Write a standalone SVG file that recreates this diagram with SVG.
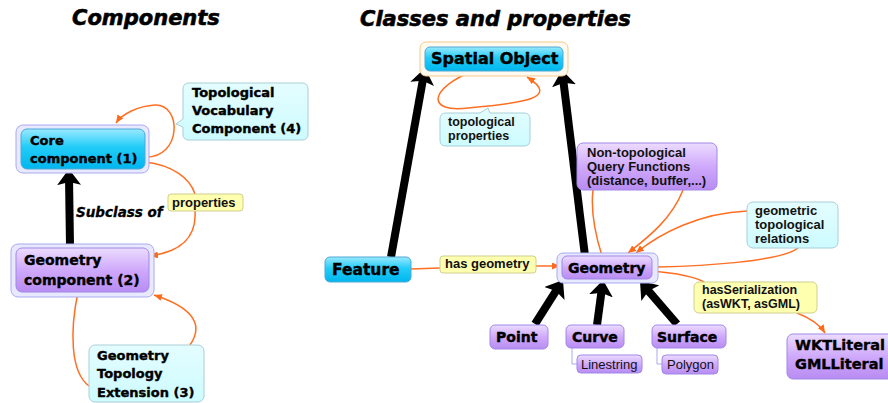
<svg xmlns="http://www.w3.org/2000/svg" width="888" height="403" viewBox="0 0 888 403">
<defs>
<linearGradient id="gCyan" x1="0" y1="0" x2="0" y2="1">
<stop offset="0" stop-color="#9ae9ff"/><stop offset="0.45" stop-color="#22ccf8"/><stop offset="1" stop-color="#00b6ee"/>
</linearGradient>
<linearGradient id="gPurple" x1="0" y1="0" x2="0" y2="1">
<stop offset="0" stop-color="#ecdcff"/><stop offset="0.5" stop-color="#cfa9fb"/><stop offset="1" stop-color="#b88cf2"/>
</linearGradient>
<linearGradient id="gLight" x1="0" y1="0" x2="0" y2="1">
<stop offset="0" stop-color="#e4fdff"/><stop offset="1" stop-color="#cdfbff"/>
</linearGradient>
<marker id="ao" viewBox="0 0 8 7" refX="8" refY="3.5" markerWidth="8" markerHeight="7" markerUnits="userSpaceOnUse" orient="auto">
<path d="M0,0 L8,3.5 L0,7 Z" fill="#ff6a1a"/>
</marker>
<marker id="ab" viewBox="0 0 16 24" refX="8" refY="12" markerWidth="16" markerHeight="24" markerUnits="userSpaceOnUse" orient="auto">
<path d="M0,0 L16,12 L0,24 L3,12 Z" fill="#000"/>
</marker>
</defs>
<style>
.title{font-family:"DejaVu Sans",sans-serif;font-weight:bold;font-style:italic;font-size:21px;fill:#000;stroke:#000;stroke-width:0.6}
.heavy{font-family:"DejaVu Sans",sans-serif;font-weight:bold;fill:#000;stroke:#000;stroke-width:0.4}
.lbl{font-family:"Liberation Sans",Arial,sans-serif;font-weight:bold;font-size:13px;fill:#111}
.reg{font-family:"Liberation Sans",Arial,sans-serif;font-size:13px;fill:#111}
.cyan{fill:url(#gCyan);stroke:#4fa8d6;stroke-width:1}
.purple{fill:url(#gPurple);stroke:#a088e8;stroke-width:1}
.light{fill:url(#gLight);stroke:#a8cfd6;stroke-width:1}
.yellow{fill:#ffffb0;stroke:#cfcf90;stroke-width:1}
.halo{fill:#e8e8ff;stroke:#a9a9f2;stroke-width:1}
.haloO{fill:#fffaf0;stroke:#f6c98c;stroke-width:1}
.oc{fill:none;stroke:#ff6f22;stroke-width:1.5}
.bk{fill:none;stroke:#000;stroke-width:8}
.sub{fill:none;stroke:#a9a9f2;stroke-width:1}
</style>

<text class="title" x="72" y="25">Components</text>
<text class="title" x="360" y="26">Classes and properties</text>

<g id="connectors">
<path class="oc" d="M145,157 C182,158 182,104 155,105 C138,106 122,114 116,123" marker-end="url(#ao)"/>
<path class="oc" d="M145,162 C172,165 190,178 195,194"/>
<path class="oc" d="M195,211 C197,240 178,252 150,256" marker-end="url(#ao)"/>
<path class="oc" d="M78,292 C70,330 70,372 89,386"/>
<path class="oc" d="M190,345 C206,322 188,306 154,295" marker-end="url(#ao)"/>
<path class="oc" d="M473,71 C430,88 425,113 468,108 C525,103 560,98 527,77" marker-end="url(#ao)"/>
<path class="oc" d="M411,269 L440,268"/>
<path class="oc" d="M536,266 L560,266" marker-end="url(#ao)"/>
<path class="oc" d="M593,190 C590,215 597,240 602,256"/>
<path class="oc" d="M683,190 C672,218 650,236 628,253" marker-end="url(#ao)"/>
<path class="oc" d="M747,211 C700,213 660,233 636,253" marker-end="url(#ao)"/>
<path class="oc" d="M798,248 C780,262 700,266 658,267"/>
<path class="oc" d="M652,271 C675,273 695,277 704,282"/>
<path class="oc" d="M797,313 C810,318 820,325 825,333" marker-end="url(#ao)"/>
<path class="sub" d="M572,348 V364 H577"/>
<path class="sub" d="M657,348 V364 H662"/>
<line class="bk" x1="70" y1="246" x2="69" y2="177" marker-end="url(#ab)"/>
<line class="bk" x1="391" y1="257" x2="423.6" y2="75.9" marker-end="url(#ab)"/>
<line class="bk" x1="585" y1="256" x2="563" y2="77.9" marker-end="url(#ab)"/>
<line class="bk" x1="535" y1="324" x2="558.7" y2="286.7" marker-end="url(#ab)"/>
<line class="bk" x1="597" y1="325" x2="602" y2="287.9" marker-end="url(#ab)"/>
<line class="bk" x1="677" y1="324" x2="645.2" y2="287.1" marker-end="url(#ab)"/>
</g>

<g id="subclass-label">
<text class="title" style="font-size:13.5px;stroke-width:0.3" x="76" y="217">Subclass of</text>
</g>

<g id="core">
<rect class="halo" x="16" y="125" width="133" height="48" rx="7"/>
<rect class="cyan" x="21" y="129" width="124" height="40" rx="6"/>
<text class="heavy" font-size="13" x="30" y="145">Core</text>
<text class="heavy" font-size="13" x="30" y="163">component (1)</text>
</g>

<g id="topvocab">
<path class="light" d="M189,83 H302 Q308,83 308,89 V134 Q308,140 302,140 H189 Q183,140 183,134 V127 L176,124 L183,119 V89 Q183,83 189,83 Z"/>
<text class="heavy" font-size="13" x="192" y="97">Topological</text>
<text class="heavy" font-size="13" x="192" y="115">Vocabulary</text>
<text class="heavy" font-size="13" x="192" y="133">Component (4)</text>
</g>

<g id="properties">
<rect class="yellow" x="168" y="194" width="75" height="17" rx="3"/>
<text class="lbl" x="172" y="207">properties</text>
</g>

<g id="geomcomp">
<rect class="halo" x="11" y="244" width="143" height="53" rx="7"/>
<rect class="purple" x="16" y="248" width="133" height="44" rx="6"/>
<text class="heavy" font-size="14" x="24" y="265">Geometry</text>
<text class="heavy" font-size="14" x="24" y="285">component (2)</text>
</g>

<g id="extension">
<rect class="light" x="89" y="345" width="115" height="57" rx="6"/>
<text class="heavy" font-size="13" x="97" y="360">Geometry</text>
<text class="heavy" font-size="13" x="97" y="378">Topology</text>
<text class="heavy" font-size="13" x="97" y="397">Extension (3)</text>
</g>

<g id="spatial">
<rect class="haloO" x="420" y="42" width="148" height="34" rx="6"/>
<rect class="cyan" x="425" y="47" width="138" height="24" rx="5"/>
<text class="heavy" font-size="16" x="431" y="64">Spatial Object</text>
</g>

<g id="topprops">
<path class="light" d="M446,113 H480 L488,108 L490,113 H524 Q530,113 530,119 V140 Q530,146 524,146 H446 Q440,146 440,140 V119 Q440,113 446,113 Z"/>
<text class="lbl" font-size="12.5" style="font-size:12.5px" x="448" y="125.5">topological</text>
<text class="lbl" style="font-size:12.5px" x="448" y="139.5">properties</text>
</g>

<g id="feature">
<rect class="cyan" x="325" y="257" width="86" height="25" rx="5"/>
<text class="heavy" font-size="15.5" x="332" y="275">Feature</text>
</g>

<g id="hasgeom">
<rect class="yellow" x="440" y="256" width="96" height="17" rx="3"/>
<text class="lbl" x="445" y="268">has geometry</text>
</g>

<g id="geometry">
<rect class="halo" x="557" y="253" width="101" height="30" rx="6"/>
<rect class="purple" x="562" y="256" width="90" height="23" rx="5"/>
<text class="heavy" font-size="14" x="568" y="273">Geometry</text>
</g>

<g id="point">
<rect class="purple" x="490" y="325" width="58" height="24" rx="5"/>
<text class="heavy" font-size="14" x="496" y="342">Point</text>
</g>

<g id="curve">
<rect class="purple" x="566" y="325" width="58" height="23" rx="5"/>
<text class="heavy" font-size="14" x="572" y="342">Curve</text>
</g>

<g id="surface">
<rect class="purple" x="652" y="325" width="74" height="23" rx="5"/>
<text class="heavy" font-size="14" x="657" y="342">Surface</text>
</g>

<g id="linestring">
<rect class="purple" x="577" y="355" width="65" height="18" rx="4"/>
<text class="reg" x="581" y="369">Linestring</text>
</g>

<g id="polygon">
<rect class="purple" x="662" y="355" width="56" height="19" rx="4"/>
<text class="reg" x="667" y="369">Polygon</text>
</g>

<g id="nontop">
<rect class="purple" x="577" y="143" width="140" height="47" rx="6"/>
<text class="lbl" x="587" y="157">Non-topological</text>
<text class="lbl" x="587" y="171">Query Functions</text>
<text class="lbl" x="587" y="185">(distance, buffer,...)</text>
</g>

<g id="geomrel">
<rect class="light" x="747" y="202" width="91" height="46" rx="6"/>
<text class="lbl" x="755" y="215">geometric</text>
<text class="lbl" x="755" y="229">topological</text>
<text class="lbl" x="755" y="243">relations</text>
</g>

<g id="hasser">
<rect class="yellow" x="694" y="282" width="123" height="31" rx="5"/>
<text class="lbl" style="font-size:12.5px" x="702" y="293.5">hasSerialization</text>
<text class="lbl" style="font-size:12.5px" x="702" y="307.5">(asWKT, asGML)</text>
</g>

<g id="literal">
<rect class="purple" x="787" y="334" width="110" height="45" rx="6"/>
<text class="heavy" font-size="14.5" x="795" y="350">WKTLiteral</text>
<text class="heavy" font-size="14.5" x="795" y="369">GMLLiteral</text>
</g>
</svg>
